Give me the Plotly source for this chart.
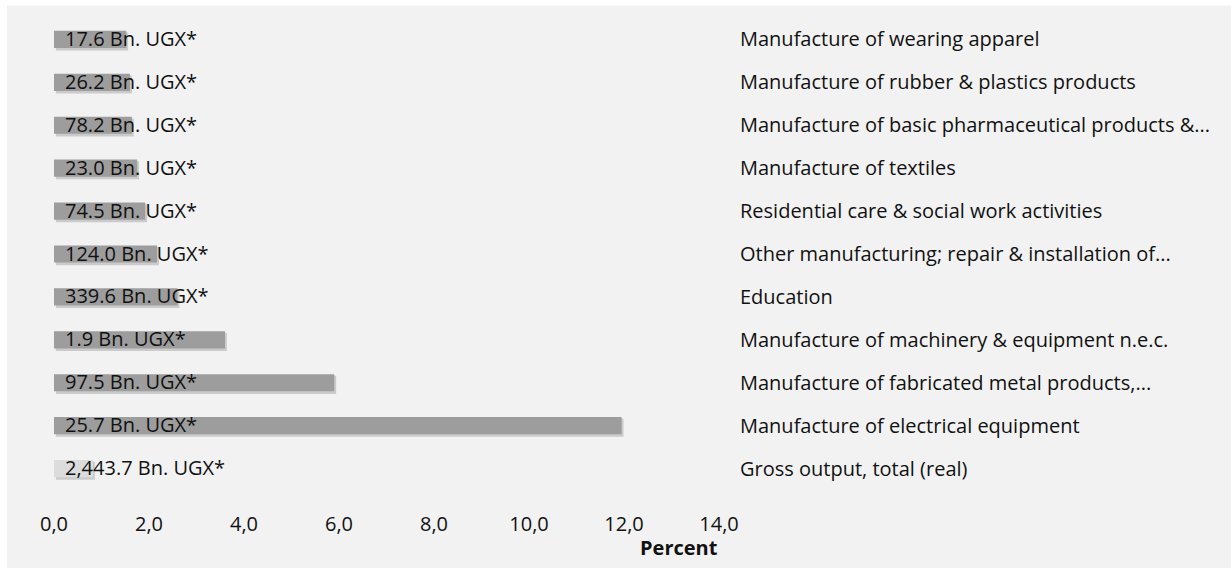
import plotly.graph_objects as go

# Industries, listed top to bottom
industries = [
    "Manufacture of wearing apparel",
    "Manufacture of rubber & plastics products",
    "Manufacture of basic pharmaceutical products &...",
    "Manufacture of textiles",
    "Residential care & social work activities",
    "Other manufacturing; repair & installation of...",
    "Education",
    "Manufacture of machinery & equipment n.e.c.",
    "Manufacture of fabricated metal products,...",
    "Manufacture of electrical equipment",
    "Gross output, total (real)",
]

# Growth in percent
percent = [1.52, 1.60, 1.64, 1.75, 1.92, 2.17, 2.60, 3.60, 5.90, 11.95, 0.82]

# Gross output level in billions of UGX
output_labels = [
    "17.6 Bn. UGX*", "26.2 Bn. UGX*", "78.2 Bn. UGX*", "23.0 Bn. UGX*",
    "74.5 Bn. UGX*", "124.0 Bn. UGX*", "339.6 Bn. UGX*", "1.9 Bn. UGX*",
    "97.5 Bn. UGX*", "25.7 Bn. UGX*", "2,443.7 Bn. UGX*",
]

x_ticks = [0, 2, 4, 6, 8, 10, 12, 14]

FONT = "Open Sans"
FSIZE = 20
bar_colors = ["#9d9d9d"] * (len(industries) - 1) + ["#dcdcdc"]

fig = go.Figure()

# soft drop shadow under each bar
fig.add_trace(go.Bar(
    y=industries, x=percent, base=0.04, orientation="h",
    width=0.42, offset=-0.16,
    marker=dict(color="rgba(0,0,0,0.16)", line=dict(width=0)),
    hoverinfo="skip", showlegend=False,
))

fig.add_trace(go.Bar(
    y=industries, x=percent, orientation="h",
    width=0.4, offset=-0.2,
    marker=dict(color=bar_colors, line=dict(width=0)),
    showlegend=False,
))

annotations = [
    dict(x=0, y=cat, xref="x", yref="y", text=lab, showarrow=False,
         xanchor="left", yanchor="middle", xshift=9, yshift=1,
         font=dict(family=FONT, size=FSIZE, color="#111111"))
    for cat, lab in zip(industries, output_labels)
]
annotations.append(dict(
    x=(679 - 54) / 665, y=(490.5 - 548) / 472, xref="paper", yref="paper",
    text="<b>Percent</b>", showarrow=False, xanchor="center", yanchor="middle",
    font=dict(family=FONT, size=FSIZE, color="#111111"),
))

fig.update_layout(
    width=1231, height=568,
    margin=dict(l=54, r=1231 - 719, t=18, b=78),
    paper_bgcolor="#f2f2f2",
    plot_bgcolor="#f2f2f2",
    separators=",.",
    barmode="overlay",
    font=dict(family=FONT, size=FSIZE, color="#111111"),
    annotations=annotations,
    shapes=[
        dict(type="rect", xref="paper", yref="paper", layer="below",
             x0=-0.2, x1=1.9, y0=(490.5 - 6) / 472, y1=1.2,
             fillcolor="white", line=dict(width=0)),
        dict(type="rect", xref="paper", yref="paper", layer="below",
             x0=-0.2, x1=(7 - 54) / 665, y0=-0.3, y1=1.2,
             fillcolor="white", line=dict(width=0)),
    ],
    xaxis=dict(
        range=[0, 14], tickvals=x_ticks, tickformat=".1f",
        showgrid=False, zeroline=False, showline=False,
        ticks="", ticklabelstandoff=20,
        tickfont=dict(family=FONT, size=FSIZE, color="#111111"),
    ),
    yaxis=dict(
        side="right", autorange="reversed", showgrid=False,
        zeroline=False, showline=False, ticks="", ticklabelstandoff=20,
        tickfont=dict(family=FONT, size=FSIZE, color="#111111"),
    ),
)

fig.write_html("out.html")
